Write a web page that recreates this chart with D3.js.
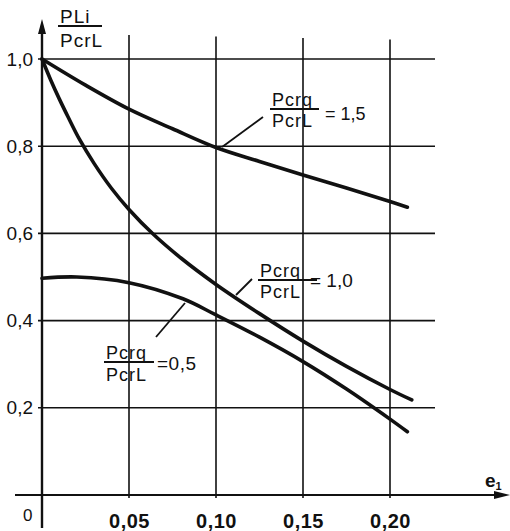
<!DOCTYPE html>
<html>
<head>
<meta charset="utf-8">
<script src="https://cdn.jsdelivr.net/npm/d3@7"></script>
<style>
  body { margin: 0; background: #fff; }
  svg { display: block; font-family: "Liberation Sans", Arial, sans-serif; }
  .grid { stroke: #111; stroke-width: 1.6; }
  .curve { fill: none; stroke: #111; stroke-width: 3.6; stroke-linecap: round; }
  .lbl { fill: #111; }
</style>
</head>
<body>
<svg id="chart" width="510" height="531"></svg>
<script>
// tick values and labels (comma decimals as in the drawing)
var xTicks = [0.05, 0.10, 0.15, 0.20];
var xTickLabels = ["0,05", "0,10", "0,15", "0,20"];
var yTicks = [0.2, 0.4, 0.6, 0.8, 1.0];
var yTickLabels = ["0,2", "0,4", "0,6", "0,8", "1,0"];

// curve Pcrq/PcrL = 1,5
var e15 = [0, 0.025, 0.05, 0.075, 0.10, 0.125, 0.15, 0.175, 0.20, 0.21];
var v15 = [1.0, 0.94, 0.885, 0.84, 0.797, 0.765, 0.734, 0.704, 0.673, 0.66];
// curve Pcrq/PcrL = 1,0
var e10 = [0, 0.005, 0.01, 0.015, 0.0215, 0.03, 0.04, 0.05, 0.064, 0.08, 0.10, 0.125, 0.15, 0.175, 0.20, 0.2125];
var v10 = [1.0, 0.952, 0.908, 0.867, 0.816, 0.76, 0.703, 0.655, 0.598, 0.543, 0.483, 0.416, 0.353, 0.295, 0.242, 0.218];
// curve Pcrq/PcrL = 0,5
var e05 = [0, 0.02, 0.05, 0.081, 0.10, 0.125, 0.15, 0.175, 0.20, 0.21];
var v05 = [0.497, 0.50, 0.487, 0.45, 0.413, 0.362, 0.306, 0.243, 0.174, 0.145];

var svg = d3.select("#chart");

var x = d3.scaleLinear().domain([0, 0.2]).range([42, 390]);
var y = d3.scaleLinear().domain([0, 1]).range([495, 59]);

// grid
svg.selectAll(".hgrid")
   .data(yTicks).enter()
   .append("line")
   .attr("class", "grid")
   .attr("x1", x(0) - 4)
   .attr("x2", 435)
   .attr("y1", (d) => y(d))
   .attr("y2", (d) => y(d));
svg.selectAll(".vgrid")
   .data(xTicks).enter()
   .append("line")
   .attr("class", "grid")
   .attr("x1", (d) => x(d))
   .attr("x2", (d) => x(d))
   .attr("y1", (d, i) => 35 + i * 1.5)
   .attr("y2", y(0) + 3);

// axes lines with arrow heads
svg.append("line")
   .attr("x1", 15).attr("x2", 500)
   .attr("y1", y(0)).attr("y2", y(0))
   .attr("stroke", "#111").attr("stroke-width", 2.2);
svg.append("path")
   .attr("d", "M510," + y(0) + " L494," + (y(0) - 4) + " L494," + (y(0) + 4) + " Z")
   .attr("fill", "#111");
svg.append("line")
   .attr("x1", x(0)).attr("x2", x(0))
   .attr("y1", 28).attr("y2", 528)
   .attr("stroke", "#111").attr("stroke-width", 2.4);
svg.append("path")
   .attr("d", "M" + x(0) + ",19 L" + (x(0) - 4) + ",34 L" + (x(0) + 4) + ",34 Z")
   .attr("fill", "#111");

// tick labels through axis generators
var xAxis = d3.axisBottom(x)
   .tickValues(xTicks)
   .tickSize(0)
   .tickPadding(19)
   .tickFormat((d, i) => xTickLabels[i]);
var gx = svg.append("g")
   .attr("transform", "translate(0," + y(0) + ")")
   .call(xAxis);
gx.select(".domain").remove();
gx.selectAll("text")
  .attr("font-size", 20)
  .attr("font-weight", "bold")
  .attr("letter-spacing", 0.5)
  .attr("font-family", "Liberation Sans, Arial, sans-serif")
  .attr("fill", "#111");

var yAxis = d3.axisLeft(y)
   .tickValues(yTicks)
   .tickSize(0)
   .tickPadding(9)
   .tickFormat((d, i) => yTickLabels[i]);
var gy = svg.append("g")
   .attr("transform", "translate(" + x(0) + ",0)")
   .call(yAxis);
gy.select(".domain").remove();
gy.selectAll("text")
  .attr("font-size", 19)
  .attr("font-family", "Liberation Sans, Arial, sans-serif")
  .attr("fill", "#111");

svg.append("text").attr("class", "lbl")
   .attr("x", 23).attr("y", 521)
   .attr("font-size", 17).text("0");

// x axis title e1
var et = svg.append("text").attr("class", "lbl")
   .attr("x", 485).attr("y", 487)
   .attr("font-size", 19).attr("font-weight", "bold")
   .text("e");
et.append("tspan").attr("font-size", 11).attr("font-weight", "bold").attr("dy", 3).text("1");

// curves
var line = d3.line()
   .x((d) => x(d[0]))
   .y((d) => y(d[1]))
   .curve(d3.curveCatmullRom.alpha(0.5));
[[e15, v15], [e10, v10], [e05, v05]].forEach(function (c) {
	svg.append("path")
	   .attr("class", "curve")
	   .attr("d", line(c[0].map((e, i) => [e, c[1][i]])));
});

// fraction text helper
function fraction(cx, cy, top, bottom, size, width, low) {
	var g = svg.append("g");
	g.append("text").attr("class", "lbl")
	 .attr("x", cx).attr("y", cy - 3)
	 .attr("font-size", size).attr("letter-spacing", 1)
	 .text(top);
	g.append("line")
	 .attr("x1", cx - 2).attr("x2", cx + width)
	 .attr("y1", cy).attr("y2", cy)
	 .attr("stroke", "#111").attr("stroke-width", 1.8);
	g.append("text").attr("class", "lbl")
	 .attr("x", cx).attr("y", cy + low)
	 .attr("font-size", size).attr("letter-spacing", 1)
	 .text(bottom);
	return g;
}
// y axis title
fraction(60, 26, "PLi", "PcrL", 19, 42, 21);

// curve labels
fraction(272, 109, "Pcrq", "PcrL", 18, 47, 18);
svg.append("text").attr("class", "lbl")
   .attr("x", 325).attr("y", 120)
   .attr("font-size", 18)
   .text("= 1,5");
svg.append("line")
   .attr("x1", 263).attr("y1", 117).attr("x2", x(0.1035)).attr("y2", 147)
   .attr("stroke", "#111").attr("stroke-width", 1.8);

fraction(260, 280, "Pcrq", "PcrL", 18, 57, 18);
svg.append("text").attr("class", "lbl")
   .attr("x", 310).attr("y", 287)
   .attr("font-size", 19)
   .text("= 1,0");
svg.append("line")
   .attr("x1", 252).attr("y1", 279).attr("x2", 236).attr("y2", 295)
   .attr("stroke", "#111").attr("stroke-width", 1.8);

fraction(106, 362, "Pcrq", "PcrL", 18, 48, 19);
svg.append("text").attr("class", "lbl")
   .attr("x", 157).attr("y", 370)
   .attr("font-size", 19).attr("letter-spacing", 0.5)
   .text("=0,5");
svg.append("line")
   .attr("x1", 156).attr("y1", 337).attr("x2", 185).attr("y2", 303)
   .attr("stroke", "#111").attr("stroke-width", 1.8);
</script>
</body>
</html>
